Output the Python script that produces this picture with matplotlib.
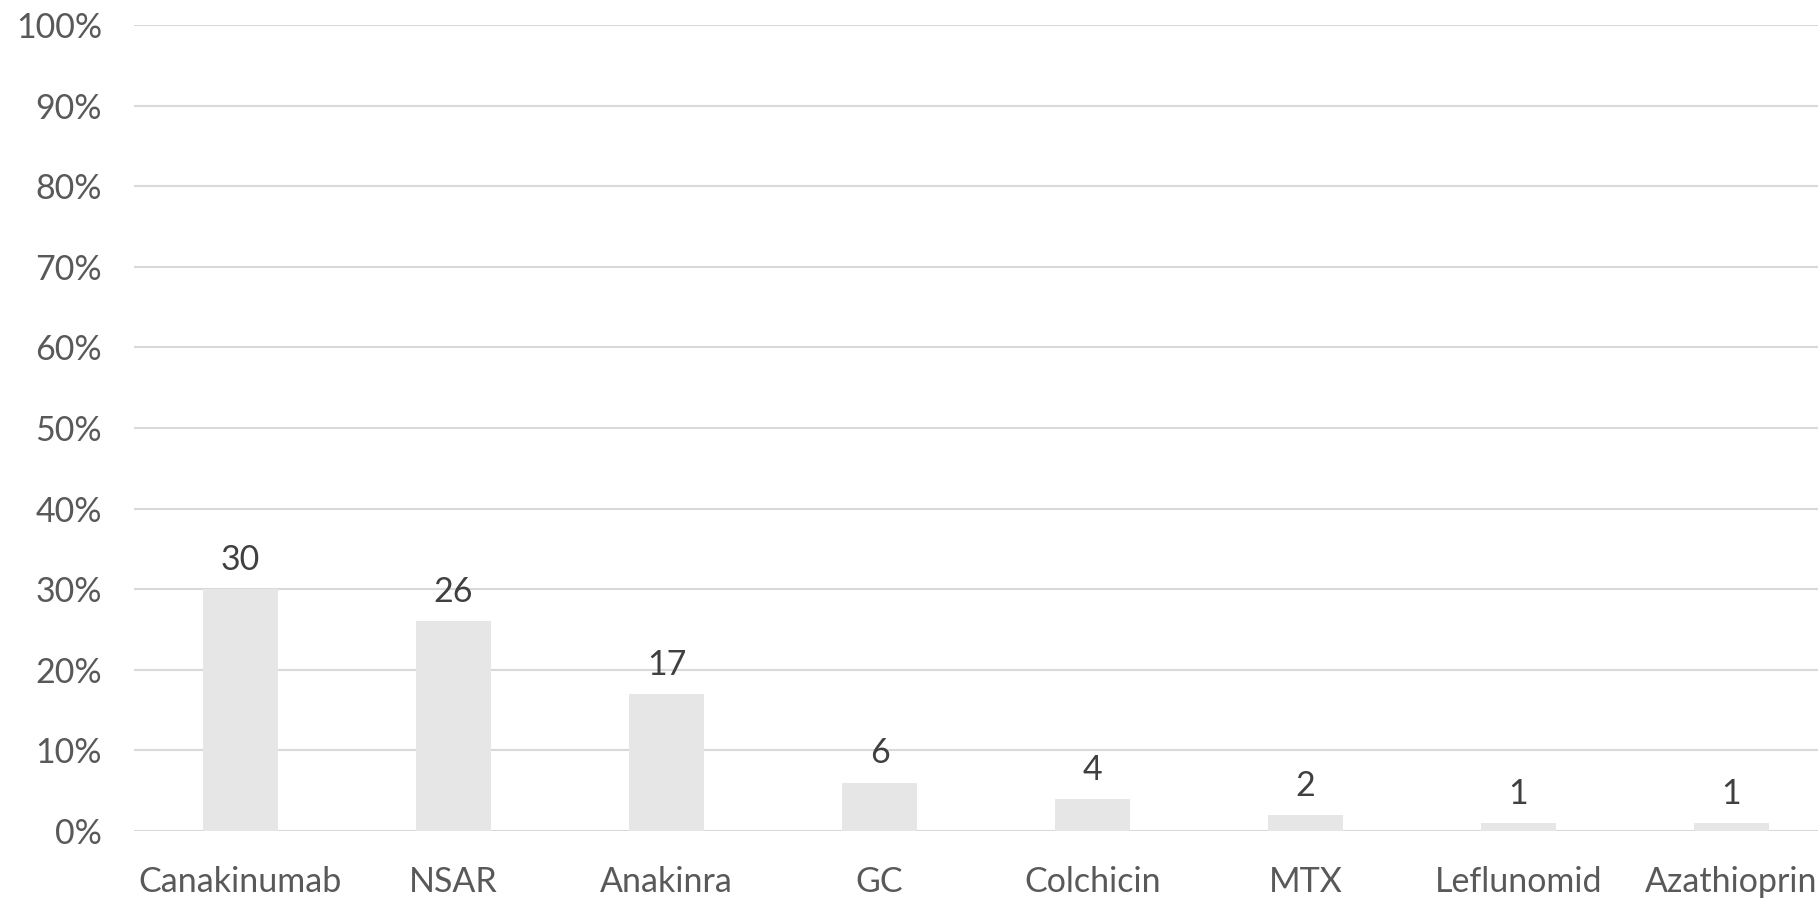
import matplotlib
matplotlib.use("Agg")
import matplotlib.pyplot as plt

categories = ["Canakinumab", "NSAR", "Anakinra", "GC", "Colchicin", "MTX", "Leflunomid", "Azathioprin"]
values = [30, 26, 17, 6, 4, 2, 1, 1]
y_ticks = [0, 10, 20, 30, 40, 50, 60, 70, 80, 90, 100]
y_tick_labels = [f"{t}%" for t in y_ticks]

plt.rcParams["font.family"] = ["Lato", "DejaVu Sans"]

W, H = 1818, 898
fig = plt.figure(figsize=(W / 100, H / 100), dpi=100)
left, right, top, bottom = 134, 1838, 25, 831
ax = fig.add_axes([left / W, (H - bottom) / H, (right - left) / W, (bottom - top) / H])

x = range(len(categories))
ax.bar(x, values, width=0.352, color="#e7e6e6", zorder=2)

ax.set_xlim(-0.5, len(categories) - 0.5)
ax.set_ylim(0, 100)
ax.set_yticks(y_ticks)
ax.set_yticklabels(y_tick_labels)
ax.set_xticks(list(x))
ax.set_xticklabels(categories)

ax.grid(axis="y", color="#d9d9d9", linewidth=1.5, zorder=0)
for s in ax.spines.values():
    s.set_visible(False)
ax.tick_params(axis="both", length=0, labelsize=24.5, colors="#595959")
ax.tick_params(axis="y", pad=23)
ax.tick_params(axis="x", pad=25)

for xi, v in zip(x, values):
    ax.annotate(str(v), (xi, v), xytext=(0, 21), textcoords="offset points",
                ha="center", va="center", fontsize=24.5, color="#404040")

fig.savefig("out.png", dpi=100)
